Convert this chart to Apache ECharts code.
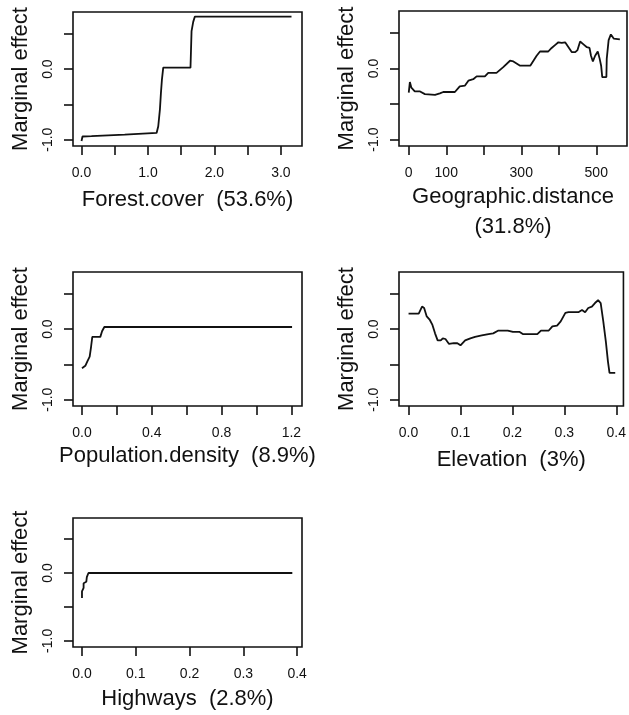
<!DOCTYPE html>
<html>
<head>
<meta charset="utf-8">
<script src="https://cdn.jsdelivr.net/npm/echarts@6/dist/echarts.min.js"></script>
<style>
  html, body { margin: 0; padding: 0; background: #fff; }
  #chart { width: 629px; height: 715px; }
</style>
</head>
<body>
<div id="chart"></div>
<script>
// 数据: 各变量的边际效应曲线
const forestX = [0, 0.015, 0.03, 0.15, 0.16, 0.65, 0.66, 1.13, 1.155, 1.18, 1.195, 1.21, 1.23, 1.64, 1.656, 1.681, 1.706, 3.16];
const forestY = [-1.02, -0.955, -0.95, -0.95, -0.93, -0.93, -0.905, -0.905, -0.81, -0.57, -0.34, -0.15, 0.02, 0.02, 0.54, 0.67, 0.745, 0.745];

const geoX = [0, 3, 7, 16, 29, 43, 70, 83, 92, 123, 136, 150, 159, 172, 181, 203, 212, 234, 252, 270, 279, 297, 324, 341, 350, 372, 381, 390, 399, 408, 417, 426, 435, 444, 450, 457, 466, 475, 482, 486, 491, 497, 504, 509, 513, 516, 527, 528, 533, 539, 547, 563];
const geoY = [-0.34, -0.19, -0.27, -0.32, -0.32, -0.36, -0.37, -0.35, -0.33, -0.33, -0.25, -0.24, -0.17, -0.15, -0.11, -0.11, -0.06, -0.06, 0.02, 0.11, 0.10, 0.04, 0.04, 0.18, 0.24, 0.24, 0.29, 0.33, 0.37, 0.36, 0.37, 0.30, 0.23, 0.23, 0.26, 0.38, 0.34, 0.30, 0.29, 0.18, 0.10, 0.18, 0.24, 0.14, 0.04, -0.12, -0.12, 0.14, 0.40, 0.48, 0.42, 0.41];

const popX = [0, 0.019, 0.032, 0.044, 0.052, 0.059, 0.105, 0.115, 0.128, 1.204];
const popY = [-0.555, -0.52, -0.45, -0.39, -0.25, -0.11, -0.11, -0.03, 0.03, 0.03];

const elevX = [0, 0.0196, 0.026, 0.030, 0.035, 0.041, 0.046, 0.051, 0.056, 0.062, 0.066, 0.071, 0.078, 0.087, 0.094, 0.100, 0.109, 0.119, 0.128, 0.141, 0.154, 0.163, 0.173, 0.191, 0.201, 0.214, 0.220, 0.248, 0.255, 0.270, 0.277, 0.286, 0.293, 0.302, 0.308, 0.327, 0.334, 0.340, 0.346, 0.353, 0.359, 0.365, 0.370, 0.375, 0.380, 0.384, 0.387, 0.398];
const elevY = [0.22, 0.22, 0.32, 0.30, 0.18, 0.13, 0.06, -0.06, -0.16, -0.16, -0.13, -0.14, -0.21, -0.20, -0.20, -0.23, -0.16, -0.13, -0.11, -0.09, -0.07, -0.06, -0.02, -0.02, -0.04, -0.04, -0.07, -0.07, -0.02, -0.02, 0.04, 0.05, 0.11, 0.23, 0.24, 0.24, 0.27, 0.24, 0.30, 0.32, 0.37, 0.41, 0.37, 0.11, -0.18, -0.46, -0.62, -0.62];

const hwX = [0, 0, 0.003, 0.003, 0.008, 0.009, 0.012, 0.391];
const hwY = [-0.37, -0.27, -0.22, -0.15, -0.13, -0.06, 0.0, 0.0];

// 刻度
const yTicks = [-1.0, -0.5, 0.0, 0.5];
const yLabels = [-1.0, 0.0];
const forestTicks = [0, 0.5, 1.0, 1.5, 2.0, 2.5, 3.0];
const forestLabels = [0, 1.0, 2.0, 3.0];
const geoTicks = [0, 100, 200, 300, 400, 500];
const geoLabels = [0, 100, 300, 500];
const popTicks = [0, 0.2, 0.4, 0.6, 0.8, 1.0, 1.2];
const popLabels = [0, 0.4, 0.8, 1.2];
const elevTicks = [0, 0.1, 0.2, 0.3, 0.4];
const hwTicks = [0, 0.1, 0.2, 0.3, 0.4];

const FONT = 'Liberation Sans, Arial, sans-serif';
const INK = '#111';

const panels = [
  { name: 'Forest.cover  (53.6%)', xs: forestX, ys: forestY, ticks: forestTicks, labels: forestLabels, digits: 1,
    min: -0.128, max: 3.318, grid: { left: 73, top: 12, width: 229, height: 134 }, gap: 39 },
  { name: 'Geographic.distance\n(31.8%)', xs: geoX, ys: geoY, ticks: geoTicks, labels: geoLabels, digits: 0,
    min: -26, max: 582, grid: { left: 399, top: 11, width: 228, height: 135 }, gap: 36 },
  { name: 'Population.density  (8.9%)', xs: popX, ys: popY, ticks: popTicks, labels: popLabels, digits: 1,
    min: -0.0516, max: 1.261, grid: { left: 73, top: 272, width: 229, height: 134 }, gap: 31 },
  { name: 'Elevation  (3%)', xs: elevX, ys: elevY, ticks: elevTicks, labels: elevTicks, digits: 1,
    min: -0.0184, max: 0.4138, grid: { left: 399, top: 272, width: 228, height: 134 }, gap: 39 },
  { name: 'Highways  (2.8%)', xs: hwX, ys: hwY, ticks: hwTicks, labels: hwTicks, digits: 1,
    min: -0.0167, max: 0.409, grid: { left: 73, top: 518, width: 229, height: 135 }, gap: 37 }
];

var chart = echarts.init(document.getElementById('chart'), null, { renderer: 'canvas' });

const option = {
  animation: false,
  backgroundColor: '#fff',
  grid: panels.map(p => Object.assign({
    show: true, borderColor: INK, borderWidth: 1.6, backgroundColor: 'transparent', containLabel: false
  }, p.grid)),
  xAxis: panels.map((p, i) => ({
    type: 'value', gridIndex: i, min: p.min, max: p.max, position: 'bottom',
    name: p.name, nameLocation: 'middle', nameGap: p.gap,
    nameTextStyle: { fontFamily: FONT, fontSize: 22, color: INK, lineHeight: 30 },
    axisLine: { show: false, onZero: false },
    splitLine: { show: false },
    axisTick: { show: true, inside: false, length: 9, customValues: p.ticks, lineStyle: { color: INK, width: 1.6 } },
    axisLabel: {
      show: true, customValues: p.labels, margin: 20,
      fontFamily: FONT, fontSize: 14, color: INK,
      formatter: v => Number(v).toFixed(p.digits)
    }
  })),
  yAxis: panels.map((p, i) => ({
    type: 'value', gridIndex: i, min: -1.09, max: 0.81, position: 'left',
    name: 'Marginal effect', nameLocation: 'middle', nameGap: 41,
    nameTextStyle: { fontFamily: FONT, fontSize: 22, color: INK },
    axisLine: { show: false, onZero: false },
    splitLine: { show: false },
    axisTick: { show: true, inside: false, length: 9, customValues: yTicks, lineStyle: { color: INK, width: 1.6 } },
    axisLabel: {
      show: true, customValues: yLabels, rotate: 90, margin: 18,
      fontFamily: FONT, fontSize: 14, color: INK,
      formatter: v => Number(v).toFixed(1)
    }
  })),
  series: panels.map((p, i) => ({
    type: 'line', xAxisIndex: i, yAxisIndex: i,
    data: p.xs.map((x, k) => [x, p.ys[k]]),
    showSymbol: false, symbol: 'none',
    lineStyle: { color: INK, width: 1.8 },
    clip: false
  }))
};

// 渲染
chart.setOption(option);
window.addEventListener('resize', () => {
  chart.resize();
});
</script>
</body>
</html>
